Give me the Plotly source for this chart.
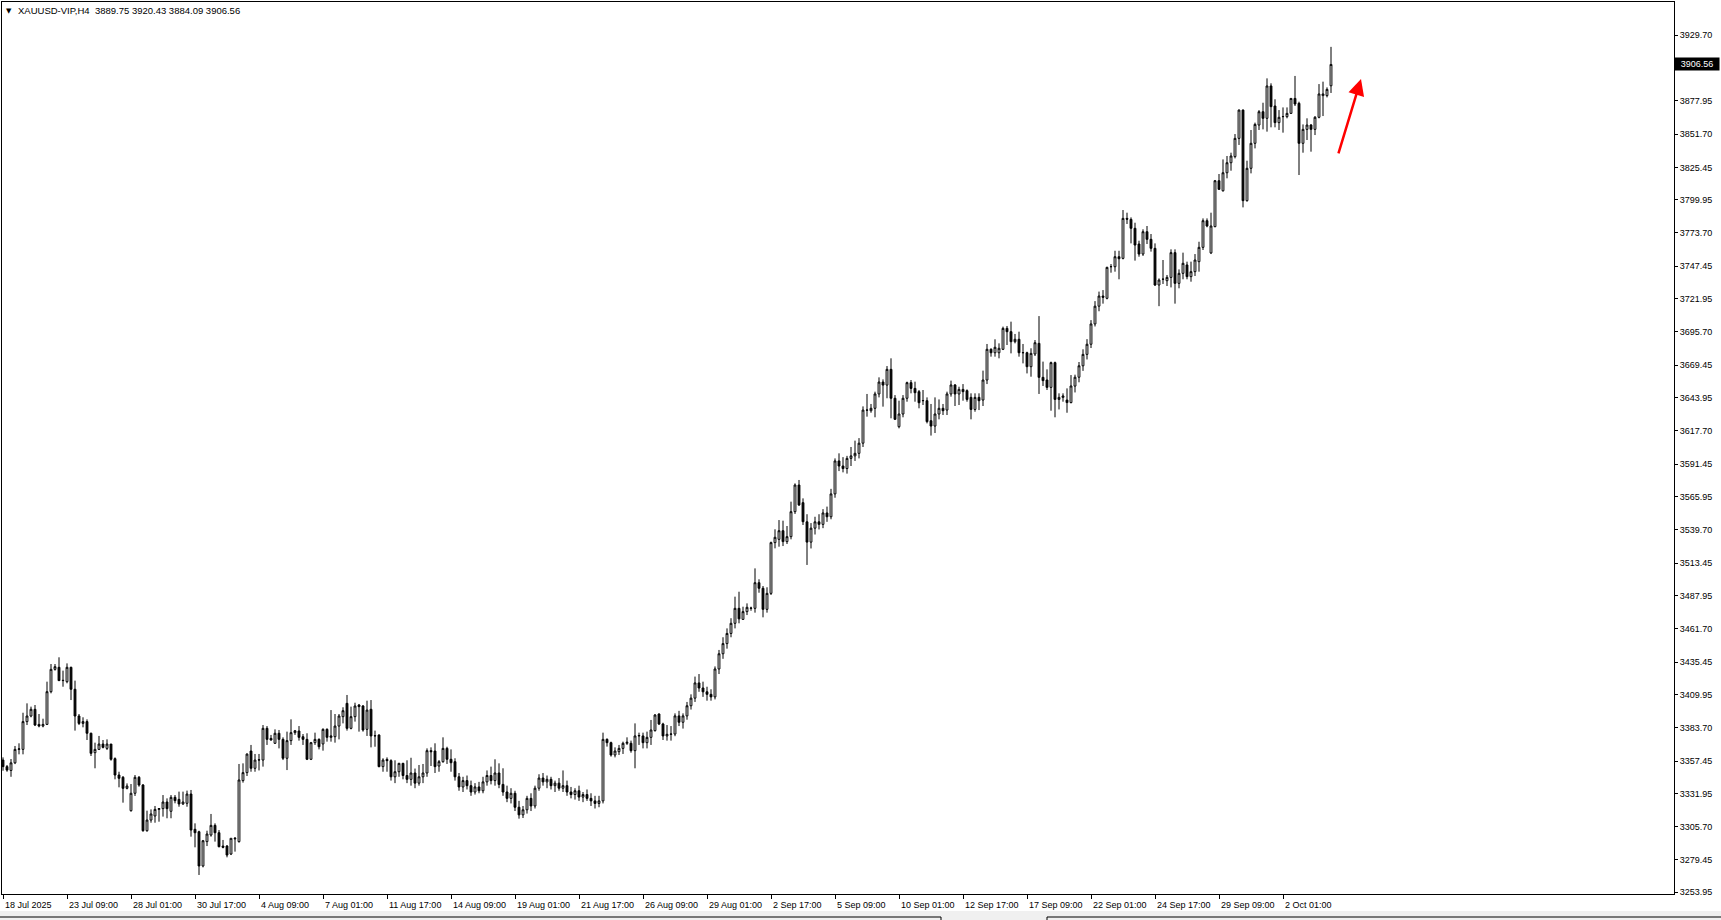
import plotly.graph_objects as go

# ---------------- data (H4 candles) ----------------
opens = [
3358.2,3353.0,3350.0,3356.0,3366.6,3366.6,3388.5,3392.9,3398.2,3386.3,
3385.0,3386.3,3412.1,3429.7,3431.3,3420.8,3420.0,3431.3,3414.0,3392.9,
3387.1,3388.5,3379.3,3364.0,3366.6,3370.8,3367.4,3370.8,3359.3,3346.4,
3344.6,3335.9,3318.3,3332.0,3344.6,3338.5,3302.5,3310.9,3314.1,3319.3,
3319.9,3325.1,3317.8,3328.8,3327.2,3323.6,3324.1,3331.4,3303.6,3301.7,
3274.7,3293.9,3299.1,3306.7,3300.9,3290.4,3290.4,3284.1,3296.0,3293.9,
3342.0,3348.3,3365.3,3351.7,3358.2,3358.2,3383.2,3375.3,3371.4,3379.3,
3374.5,3359.6,3373.5,3379.8,3381.1,3376.6,3374.5,3358.8,3371.9,3374.5,
3370.9,3382.4,3376.1,3376.6,3385.0,3392.4,3402.9,3383.2,3392.4,3401.6,
3400.8,3382.4,3398.2,3377.2,3377.9,3353.0,3358.7,3357.7,3345.0,3349.0,
3355.6,3346.0,3343.0,3348.0,3340.0,3345.0,3348.0,3365.6,3365.3,3353.5,
3356.9,3367.4,3358.8,3356.9,3345.0,3337.0,3342.0,3338.0,3333.0,3337.0,
3334.0,3341.0,3346.0,3342.0,3348.0,3339.0,3333.0,3328.0,3332.0,3321.0,
3315.0,3319.0,3328.0,3322.0,3336.0,3344.0,3341.0,3343.0,3338.0,3340.0,
3336.0,3338.0,3333.0,3331.0,3334.0,3329.0,3331.0,3328.0,3326.0,3324.0,
3326.0,3374.5,3371.9,3362.2,3364.8,3367.4,3371.4,3371.4,3365.6,3377.2,
3377.2,3371.9,3376.1,3381.4,3394.5,3386.6,3377.2,3378.5,3378.7,3393.0,
3388.0,3393.0,3401.0,3407.0,3419.0,3415.0,3412.0,3410.0,3408.0,3430.0,
3442.0,3450.0,3458.0,3466.0,3477.8,3469.1,3475.2,3477.8,3477.8,3498.0,
3493.6,3477.0,3489.6,3529.6,3532.2,3539.0,3530.4,3534.3,3554.0,3575.0,
3561.1,3546.0,3530.0,3541.0,3546.0,3544.0,3553.0,3550.0,3568.0,3594.0,
3590.0,3588.0,3596.0,3598.0,3600.0,3608.0,3634.0,3633.6,3635.5,3646.8,
3656.2,3653.8,3666.2,3643.4,3621.0,3631.0,3643.4,3655.7,3651.2,3648.6,
3641.5,3641.5,3625.7,3621.5,3631.0,3635.5,3634.1,3646.8,3653.9,3646.8,
3650.4,3649.4,3644.1,3634.6,3644.1,3642.0,3657.8,3682.0,3679.3,3679.3,
3682.0,3698.5,3695.9,3688.0,3689.9,3679.3,3679.3,3668.3,3678.3,3686.7,
3659.9,3657.8,3652.0,3671.5,3642.5,3644.1,3642.0,3640.0,3653.0,3660.0,
3669.0,3678.0,3686.0,3702.0,3716.0,3724.0,3722.2,3747.1,3747.1,3755.0,
3753.7,3785.2,3784.4,3777.4,3765.0,3757.1,3774.7,3768.7,3761.6,3732.7,
3737.2,3736.1,3738.7,3758.2,3734.0,3741.9,3748.5,3739.3,3743.2,3751.1,
3762.4,3783.4,3758.0,3778.7,3814.9,3807.0,3821.2,3829.1,3833.9,3848.3,
3870.6,3799.2,3824.7,3844.4,3858.8,3869.3,3864.1,3889.6,3873.8,3860.7,
3865.4,3865.4,3868.0,3879.8,3875.9,3844.4,3855.4,3858.8,3855.4,3864.9,
3882.0,3882.0,3889.75]

highs = [
3360.3,3354.3,3359.0,3369.3,3371.4,3395.5,3402.9,3400.3,3401.6,3394.5,
3390.8,3420.0,3433.9,3433.9,3439.2,3428.7,3434.4,3431.8,3420.8,3394.5,
3391.9,3390.3,3379.8,3371.9,3377.2,3374.0,3374.5,3370.8,3360.3,3349.0,
3345.6,3339.8,3339.3,3346.4,3345.6,3339.3,3318.3,3319.3,3322.0,3320.1,
3330.6,3328.0,3330.6,3330.6,3333.3,3333.3,3334.1,3334.6,3308.3,3302.5,
3295.2,3302.5,3315.7,3308.3,3303.0,3295.2,3291.2,3296.5,3297.5,3355.1,
3355.6,3363.5,3370.1,3363.0,3363.0,3385.8,3385.0,3378.0,3382.4,3381.9,
3376.1,3380.6,3390.3,3381.9,3385.0,3378.7,3379.3,3372.5,3379.8,3375.3,
3383.2,3383.2,3397.6,3394.5,3394.5,3399.8,3409.5,3400.3,3403.4,3402.4,
3401.6,3405.0,3405.5,3381.4,3378.5,3359.6,3360.3,3358.8,3358.0,3356.0,
3356.0,3358.0,3360.0,3351.5,3354.3,3355.1,3367.4,3368.2,3371.4,3358.2,
3376.1,3368.7,3366.6,3359.6,3348.0,3345.0,3346.0,3342.0,3340.0,3341.0,
3345.0,3350.0,3353.0,3358.8,3355.6,3351.7,3338.0,3336.0,3334.0,3326.0,
3322.0,3330.0,3332.0,3338.0,3347.0,3348.0,3346.0,3345.0,3342.0,3344.0,
3350.0,3342.0,3337.0,3336.0,3338.0,3333.0,3335.0,3332.0,3330.0,3330.0,
3379.8,3375.3,3372.7,3368.2,3370.1,3372.7,3376.1,3373.5,3387.1,3379.8,
3379.8,3380.6,3389.8,3394.5,3395.0,3387.6,3385.8,3385.0,3395.0,3397.0,
3395.0,3404.0,3410.0,3424.0,3426.0,3420.0,3416.0,3414.0,3432.0,3445.0,
3455.0,3462.0,3470.0,3487.0,3490.9,3479.1,3481.7,3479.1,3509.3,3500.7,
3495.4,3494.4,3530.4,3540.1,3547.4,3546.9,3542.7,3561.9,3576.3,3579.0,
3564.5,3552.0,3545.0,3550.0,3552.0,3556.0,3558.0,3572.0,3596.0,3600.0,
3597.0,3598.0,3605.0,3610.0,3612.0,3637.0,3646.8,3638.9,3648.6,3659.9,
3658.3,3668.8,3674.9,3645.9,3641.5,3645.9,3656.5,3657.8,3656.5,3649.9,
3649.9,3644.1,3638.9,3644.1,3642.5,3638.9,3648.6,3657.3,3654.6,3652.5,
3654.6,3650.4,3647.3,3647.3,3647.3,3665.2,3686.2,3682.8,3689.9,3686.7,
3699.9,3700.4,3703.8,3694.1,3695.9,3686.2,3680.1,3682.8,3689.3,3708.2,
3672.3,3666.2,3672.3,3672.3,3647.3,3647.3,3651.2,3661.7,3662.0,3672.0,
3682.0,3690.0,3705.0,3720.0,3727.5,3728.7,3747.1,3749.2,3759.7,3759.7,
3791.8,3789.7,3786.0,3781.8,3767.6,3776.6,3779.2,3772.9,3765.5,3737.9,
3752.4,3740.6,3760.8,3760.8,3745.0,3758.2,3751.1,3751.1,3757.1,3766.8,
3785.2,3785.2,3789.7,3815.5,3820.2,3831.7,3834.4,3837.0,3851.7,3871.1,
3871.1,3830.7,3854.9,3860.7,3870.6,3876.4,3895.6,3891.7,3879.1,3870.6,
3872.7,3872.7,3879.8,3897.5,3877.2,3859.3,3864.1,3859.6,3865.9,3891.1,
3893.0,3888.5,3920.43]

lows = [
3349.8,3349.0,3345.0,3355.0,3362.7,3362.7,3385.8,3391.9,3385.0,3384.0,
3384.0,3385.8,3410.8,3428.7,3420.8,3416.0,3418.7,3405.5,3381.4,3385.8,
3384.0,3374.0,3361.4,3351.7,3366.1,3367.4,3366.1,3357.7,3343.0,3336.7,
3324.6,3335.1,3317.5,3329.9,3337.2,3301.7,3301.7,3308.8,3308.8,3309.6,
3313.6,3312.3,3312.3,3324.1,3321.4,3322.8,3321.4,3297.8,3289.4,3267.6,
3273.6,3290.4,3297.8,3293.9,3289.4,3288.6,3281.5,3283.3,3286.0,3293.1,
3340.4,3345.6,3349.0,3349.0,3350.0,3353.0,3370.1,3373.5,3370.9,3367.4,
3358.2,3350.3,3370.1,3378.0,3373.5,3370.1,3358.2,3358.2,3370.1,3366.6,
3365.6,3372.7,3372.7,3371.9,3374.5,3387.1,3381.4,3382.4,3388.5,3380.6,
3380.6,3377.2,3368.2,3368.7,3352.5,3349.0,3349.0,3342.0,3340.0,3345.0,
3343.0,3340.0,3338.0,3336.0,3338.0,3340.0,3345.0,3353.5,3348.0,3349.0,
3356.1,3355.1,3349.0,3342.0,3334.0,3333.0,3335.0,3330.0,3331.0,3332.0,
3332.0,3338.0,3339.0,3338.0,3336.0,3330.0,3325.0,3324.0,3318.0,3312.0,
3312.5,3316.0,3318.0,3320.0,3334.0,3338.0,3336.0,3335.0,3333.0,3334.0,
3333.0,3330.0,3328.0,3327.0,3326.0,3325.0,3326.0,3322.0,3320.0,3321.0,
3324.0,3368.8,3360.9,3360.3,3362.2,3363.0,3370.1,3364.0,3351.7,3370.1,
3367.4,3367.4,3370.1,3380.6,3385.8,3374.0,3373.5,3373.5,3377.0,3385.0,
3383.0,3390.0,3398.0,3404.0,3412.0,3408.0,3405.0,3405.0,3406.0,3426.0,
3438.0,3446.0,3455.0,3462.0,3466.0,3468.6,3472.5,3475.9,3474.4,3490.1,
3470.7,3474.4,3488.3,3525.1,3526.4,3526.9,3528.5,3532.2,3552.2,3558.5,
3543.5,3512.0,3525.0,3536.0,3540.0,3541.0,3546.0,3548.0,3565.0,3586.0,
3585.0,3584.0,3590.0,3594.0,3596.0,3605.0,3628.9,3632.0,3628.4,3644.1,
3636.8,3643.4,3627.6,3626.3,3619.7,3628.4,3640.7,3647.3,3640.7,3635.5,
3638.1,3623.6,3614.0,3616.0,3626.8,3630.2,3630.2,3644.7,3637.3,3638.1,
3641.5,3640.7,3626.8,3632.8,3634.1,3637.3,3654.6,3676.2,3676.2,3674.9,
3681.4,3685.4,3678.8,3686.7,3676.2,3670.9,3663.0,3660.4,3676.7,3646.8,
3653.1,3649.9,3633.6,3628.4,3634.6,3640.7,3632.0,3639.4,3648.0,3656.0,
3665.0,3674.0,3683.0,3700.0,3712.0,3718.0,3721.4,3742.4,3743.2,3737.2,
3752.9,3780.8,3765.5,3751.9,3755.0,3755.6,3765.0,3759.0,3731.9,3716.0,
3733.5,3731.9,3730.8,3718.0,3730.1,3737.2,3737.2,3735.3,3739.8,3743.2,
3760.3,3778.2,3757.1,3778.2,3807.6,3806.3,3816.8,3822.8,3832.5,3843.1,
3793.9,3798.4,3820.7,3840.4,3854.9,3855.4,3853.6,3857.0,3857.0,3854.9,
3852.8,3864.1,3867.5,3873.8,3819.4,3837.0,3847.0,3837.8,3850.9,3864.1,
3865.9,3880.6,3884.09]

closes = [
3353.0,3350.3,3356.0,3366.6,3367.0,3388.5,3392.9,3398.2,3385.8,3385.0,
3386.3,3412.1,3429.7,3431.8,3420.8,3421.0,3431.3,3414.0,3392.9,3387.1,
3388.5,3379.3,3363.5,3366.6,3370.8,3368.2,3370.8,3358.8,3346.4,3343.8,
3335.9,3337.7,3332.0,3344.6,3338.5,3302.5,3310.9,3315.7,3319.3,3319.9,
3325.1,3319.9,3328.8,3326.2,3323.6,3325.1,3331.4,3303.0,3300.9,3274.7,
3294.6,3299.9,3306.7,3300.9,3289.9,3289.4,3283.3,3296.5,3296.5,3342.5,
3348.3,3362.9,3351.7,3358.2,3358.4,3383.2,3374.5,3374.0,3379.3,3374.5,
3359.6,3373.5,3379.8,3381.3,3376.1,3374.5,3358.8,3371.9,3374.5,3368.7,
3382.4,3376.1,3377.2,3385.0,3392.9,3397.1,3383.2,3392.4,3400.8,3400.3,
3381.9,3397.6,3377.2,3377.4,3353.0,3358.2,3357.7,3345.0,3349.0,3355.6,
3346.0,3343.0,3348.0,3340.0,3345.0,3348.0,3365.6,3364.8,3353.0,3356.9,
3367.4,3358.8,3356.1,3345.0,3337.0,3342.0,3338.0,3333.0,3337.0,3334.0,
3341.0,3346.0,3342.0,3348.0,3339.0,3333.0,3328.0,3332.0,3321.0,3315.0,
3319.0,3328.0,3322.0,3336.0,3344.0,3341.0,3343.0,3338.0,3340.0,3336.0,
3338.0,3333.0,3331.0,3334.0,3329.0,3331.0,3328.0,3326.0,3324.0,3326.0,
3374.5,3371.9,3362.2,3365.3,3367.4,3371.4,3372.2,3365.6,3377.2,3377.5,
3371.9,3376.1,3381.9,3393.7,3386.6,3377.2,3378.5,3378.7,3393.0,3388.0,
3393.0,3401.0,3407.0,3419.0,3415.0,3412.0,3410.0,3408.0,3430.0,3442.0,
3450.0,3458.0,3466.0,3477.8,3469.5,3475.2,3478.6,3478.0,3498.0,3493.6,
3477.0,3489.6,3529.6,3533.8,3539.0,3530.4,3534.3,3554.0,3575.0,3559.3,
3546.1,3530.0,3541.0,3546.0,3544.0,3553.0,3550.0,3568.0,3594.0,3590.0,
3588.0,3596.0,3598.0,3600.0,3608.0,3634.1,3634.1,3635.5,3646.8,3656.2,
3653.8,3666.2,3643.4,3626.8,3631.0,3643.4,3655.7,3651.2,3647.8,3639.9,
3641.6,3625.0,3621.5,3631.0,3635.5,3633.6,3646.8,3653.9,3646.8,3650.4,
3648.6,3642.5,3634.6,3644.1,3641.5,3657.8,3682.0,3679.3,3683.6,3682.8,
3698.5,3695.9,3688.0,3689.9,3679.3,3679.4,3668.3,3678.8,3687.2,3659.9,
3657.3,3652.0,3671.5,3642.5,3644.1,3645.2,3640.0,3653.1,3660.0,3669.0,
3678.0,3686.0,3702.0,3716.0,3724.0,3723.0,3746.6,3747.2,3755.0,3753.4,
3785.2,3784.6,3777.4,3764.2,3757.1,3774.7,3768.7,3761.6,3732.7,3736.6,
3737.3,3738.7,3758.2,3734.0,3741.9,3749.8,3739.3,3743.2,3752.4,3762.4,
3783.4,3779.2,3779.2,3814.9,3808.1,3821.2,3829.1,3834.4,3848.3,3870.6,
3799.2,3824.7,3844.4,3859.3,3869.3,3864.1,3889.6,3873.3,3860.7,3864.9,
3865.5,3868.0,3879.8,3875.4,3844.4,3855.4,3858.8,3855.4,3864.9,3883.3,
3883.3,3886.9,3906.56]

time_labels = ["18 Jul 2025", "23 Jul 09:00", "28 Jul 01:00", "30 Jul 17:00",
               "4 Aug 09:00", "7 Aug 01:00", "11 Aug 17:00", "14 Aug 09:00",
               "19 Aug 01:00", "21 Aug 17:00", "26 Aug 09:00", "29 Aug 01:00",
               "2 Sep 17:00", "5 Sep 09:00", "10 Sep 01:00", "12 Sep 17:00",
               "17 Sep 09:00", "22 Sep 01:00", "24 Sep 17:00", "29 Sep 09:00",
               "2 Oct 01:00"]
bars_per_label = 16

price_ticks = [3929.70, 3903.45, 3877.95, 3851.70, 3825.45, 3799.95, 3773.70,
               3747.45, 3721.95, 3695.70, 3669.45, 3643.95, 3617.70, 3591.45,
               3565.95, 3539.70, 3513.45, 3487.95, 3461.70, 3435.45, 3409.95,
               3383.70, 3357.45, 3331.95, 3305.70, 3279.45, 3253.95]

symbol_title = "XAUUSD-VIP,H4"

# ---------------- figure ----------------
W, H = 1721, 920
PL, PR, PT, PB = 2, 1674, 2, 894          # plot area in pixels


def px_x(p):
    return (p - PL) / (PR - PL)


def px_y(p):
    return (PB - p) / (PB - PT)


n = len(closes)
idx = list(range(n))
FONT = "Liberation Sans, Arial, sans-serif"
last_close = closes[-1]

fig = go.Figure()
fig.add_trace(go.Candlestick(
    x=idx, open=opens, high=highs, low=lows, close=closes,
    increasing=dict(line=dict(color="black", width=1), fillcolor="white"),
    decreasing=dict(line=dict(color="black", width=1), fillcolor="black"),
    whiskerwidth=0, hoverinfo="skip", showlegend=False))

tick_pos = [k * bars_per_label for k in range(len(time_labels))]
# the tick hidden under the current-price box keeps its mark, not its text
tick_text = ["" if abs(v - last_close) < 8 else f"{v:.2f}" for v in price_ticks]

fig.update_layout(
    width=W, height=H,
    margin=dict(l=PL, r=W - PR, t=PT, b=H - PB, pad=0),
    paper_bgcolor="white", plot_bgcolor="white",
    boxgap=0.35,
    font=dict(family=FONT, size=9, color="black"),
    xaxis=dict(range=[-0.25, 417.75], showgrid=False, zeroline=False,
               showline=True, linecolor="black", linewidth=1, mirror=True,
               ticks="outside", ticklen=4, tickcolor="black", tickwidth=1,
               tickvals=tick_pos, showticklabels=False,
               rangeslider=dict(visible=False), fixedrange=True),
    yaxis=dict(range=[3252.6, 3955.8], side="right", showgrid=False,
               zeroline=False, showline=True, linecolor="black", linewidth=1,
               mirror=True, ticks="outside", ticklen=3, tickcolor="black",
               tickvals=price_ticks, ticktext=tick_text,
               tickfont=dict(family=FONT, size=9, color="black"),
               fixedrange=True),
)

ann = []
# time labels, left-aligned at their tick
for pos, lab in zip(tick_pos, time_labels):
    ann.append(dict(x=pos, xref="x", y=px_y(905), yref="paper", text=lab,
                    showarrow=False, xanchor="left", yanchor="middle",
                    font=dict(family=FONT, size=9, color="black")))
# header
ann.append(dict(x=px_x(4), y=px_y(11), xref="paper", yref="paper", text="▼",
                showarrow=False, xanchor="left", yanchor="middle",
                font=dict(family="DejaVu Sans", size=7, color="black")))
o, h, l, c = opens[-1], highs[-1], lows[-1], closes[-1]
ann.append(dict(x=px_x(16), y=px_y(11), xref="paper", yref="paper",
                text=f"{symbol_title}  {o:.2f} {h:.2f} {l:.2f} {c:.2f}",
                showarrow=False, xanchor="left", yanchor="middle",
                font=dict(family=FONT, size=9.5, color="black")))
# current price label
ann.append(dict(x=1.0, xref="paper", y=c, yref="y", text=f"{c:.2f}",
                showarrow=False, xanchor="left", yanchor="middle",
                bgcolor="black", borderpad=1, width=42,
                font=dict(family=FONT, size=9, color="white")))
# red arrow drawn on the chart
arrow_tail = (333.75, 3835.2)
arrow_head = (339.5, 3895.1)
ann.append(dict(x=arrow_head[0], y=arrow_head[1], xref="x", yref="y",
                ax=arrow_tail[0], ay=arrow_tail[1], axref="x", ayref="y",
                text="", showarrow=True, arrowhead=2, arrowsize=1.3,
                arrowwidth=2.5, arrowcolor="#ff0000"))
fig.update_layout(annotations=ann)

# bottom tab bar
shapes = [
    dict(type="rect", xref="paper", yref="paper", x0=px_x(0), x1=px_x(W),
         y0=px_y(920), y1=px_y(911), fillcolor="#f0f0f0", line=dict(width=0),
         layer="below"),
    dict(type="line", xref="paper", yref="paper", x0=px_x(0), x1=px_x(941),
         y0=px_y(917), y1=px_y(917), line=dict(color="black", width=1)),
    dict(type="line", xref="paper", yref="paper", x0=px_x(941), x1=px_x(941),
         y0=px_y(917), y1=px_y(920), line=dict(color="black", width=1)),
    dict(type="line", xref="paper", yref="paper", x0=px_x(1047), x1=px_x(W),
         y0=px_y(917), y1=px_y(917), line=dict(color="black", width=1)),
    dict(type="line", xref="paper", yref="paper", x0=px_x(1047), x1=px_x(1047),
         y0=px_y(917), y1=px_y(920), line=dict(color="black", width=1)),
]
fig.update_layout(shapes=shapes)

fig.write_html("out.html", config={"displayModeBar": False},
               post_script="document.body.style.margin='0';"
                           "document.body.style.overflow='hidden';")
